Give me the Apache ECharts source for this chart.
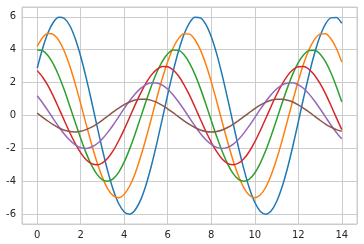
<!DOCTYPE html>
<html><head><meta charset="utf-8">
<script src="https://cdn.jsdelivr.net/npm/echarts@6/dist/echarts.min.js"></script>
<style>html,body{margin:0;padding:0;background:#fff}#c{width:364px;height:244px}</style>
</head><body><div id="c"></div>
<script>
var xs = [0,0.25,0.5,0.75,1,1.25,1.5,1.75,2,2.25,2.5,2.75,3,3.25,3.5,3.75,4,4.25,4.5,4.75,5,5.25,5.5,5.75,6,6.25,6.5,6.75,7,7.25,7.5,7.75,8,8.25,8.5,8.75,9,9.25,9.5,9.75,10,10.25,10.5,10.75,11,11.25,11.5,11.75,12,12.25,12.5,12.75,13,13.25,13.5,13.75,14];
var s1 = [2.88,4.09,5.05,5.69,5.98,5.90,5.46,4.67,3.59,2.29,0.85,-0.65,-2.10,-3.43,-4.54,-5.37,-5.87,-6.00,-5.75,-5.15,-4.23,-3.04,-1.68,-0.20,1.29,2.70,3.94,4.94,5.63,5.97,5.94,5.54,4.79,3.75,2.47,1.04,-0.45,-1.92,-3.26,-4.41,-5.28,-5.82,-6.00,-5.81,-5.25,-4.37,-3.22,-1.87,-0.40,1.10,2.52,3.79,4.82,5.56,5.94,5.96,5.61];
var s2 = [4.21,4.75,4.99,4.92,4.55,3.89,2.99,1.91,0.71,-0.54,-1.75,-2.86,-3.78,-4.48,-4.89,-5.00,-4.79,-4.29,-3.53,-2.53,-1.40,-0.17,1.08,2.25,3.29,4.12,4.69,4.97,4.95,4.61,3.99,3.12,2.06,0.87,-0.38,-1.60,-2.72,-3.67,-4.40,-4.85,-5.00,-4.84,-4.38,-3.64,-2.68,-1.56,-0.33,0.91,2.10,3.16,4.02,4.63,4.95,4.97,4.67,4.09,3.25];
var s3 = [3.99,3.94,3.64,3.11,2.39,1.53,0.56,-0.43,-1.40,-2.29,-3.03,-3.58,-3.91,-4.00,-3.84,-3.44,-2.82,-2.03,-1.12,-0.13,0.86,1.80,2.63,3.29,3.75,3.98,3.96,3.69,3.19,2.50,1.65,0.70,-0.30,-1.28,-2.18,-2.94,-3.52,-3.88,-4.00,-3.87,-3.50,-2.91,-2.15,-1.24,-0.27,0.73,1.68,2.53,3.22,3.70,3.96,3.97,3.74,3.27,2.60,1.77,0.83];
var s4 = [2.73,2.33,1.80,1.15,0.42,-0.32,-1.05,-1.71,-2.27,-2.69,-2.93,-3.00,-2.88,-2.58,-2.12,-1.52,-0.84,-0.10,0.65,1.35,1.97,2.47,2.81,2.98,2.97,2.77,2.40,1.87,1.24,0.52,-0.23,-0.96,-1.63,-2.20,-2.64,-2.91,-3.00,-2.90,-2.63,-2.19,-1.61,-0.93,-0.20,0.55,1.26,1.89,2.41,2.78,2.97,2.98,2.80,2.45,1.95,1.33,0.62,-0.13,-0.86];
var s5 = [1.20,0.76,0.28,-0.22,-0.70,-1.14,-1.51,-1.79,-1.96,-2.00,-1.92,-1.72,-1.41,-1.01,-0.56,-0.07,0.43,0.90,1.31,1.65,1.88,1.99,1.98,1.85,1.60,1.25,0.82,0.35,-0.15,-0.64,-1.09,-1.47,-1.76,-1.94,-2.00,-1.94,-1.75,-1.46,-1.07,-0.62,-0.13,0.37,0.84,1.26,1.61,1.85,1.98,1.99,1.87,1.64,1.30,0.88,0.41,-0.08,-0.58,-1.03,-1.42];
var s6 = [0.14,-0.11,-0.35,-0.57,-0.76,-0.90,-0.98,-1.00,-0.96,-0.86,-0.71,-0.51,-0.28,-0.03,0.22,0.45,0.66,0.82,0.94,0.99,0.99,0.92,0.80,0.62,0.41,0.17,-0.08,-0.32,-0.54,-0.73,-0.88,-0.97,-1.00,-0.97,-0.88,-0.73,-0.54,-0.31,-0.07,0.18,0.42,0.63,0.80,0.93,0.99,0.99,0.93,0.82,0.65,0.44,0.21,-0.04,-0.29,-0.52,-0.71,-0.86,-0.96];
var allSeries = [s1,s2,s3,s4,s5,s6];
var colors = ['#1f77b4','#ff7f0e','#2ca02c','#d62728','#9467bd','#8c564b'];

var chart = echarts.init(document.getElementById('c'), null, {renderer:'canvas'});
var lbl = {color:'#262626', fontSize:10, fontFamily:'DejaVu Sans', showMinLabel:false, showMaxLabel:false};
chart.setOption({
  animation:false,
  backgroundColor:'#ffffff',
  grid:{left:22, right:7, top:7, bottom:20, show:true, borderColor:'#cccccc', borderWidth:1, backgroundColor:'transparent'},
  xAxis:{type:'value', min:-0.7, max:14.7, splitNumber:7,
    axisLine:{show:false}, axisTick:{show:false},
    axisLabel:Object.assign({margin:6}, lbl),
    splitLine:{show:true, lineStyle:{color:'#cccccc', width:1}}},
  yAxis:{type:'value', min:-6.6, max:6.6, splitNumber:6,
    axisLine:{show:false}, axisTick:{show:false},
    axisLabel:Object.assign({margin:6}, lbl),
    splitLine:{show:true, lineStyle:{color:'#cccccc', width:1}}},
  series: allSeries.map(function(s,i){
    return {type:'line', data:xs.map(function(x,j){return [x,s[j]];}), showSymbol:false, smooth:0.25,
      lineStyle:{color:colors[i], width:1.5}, itemStyle:{color:colors[i]}, z:2+i};
  })
});
</script></body></html>
